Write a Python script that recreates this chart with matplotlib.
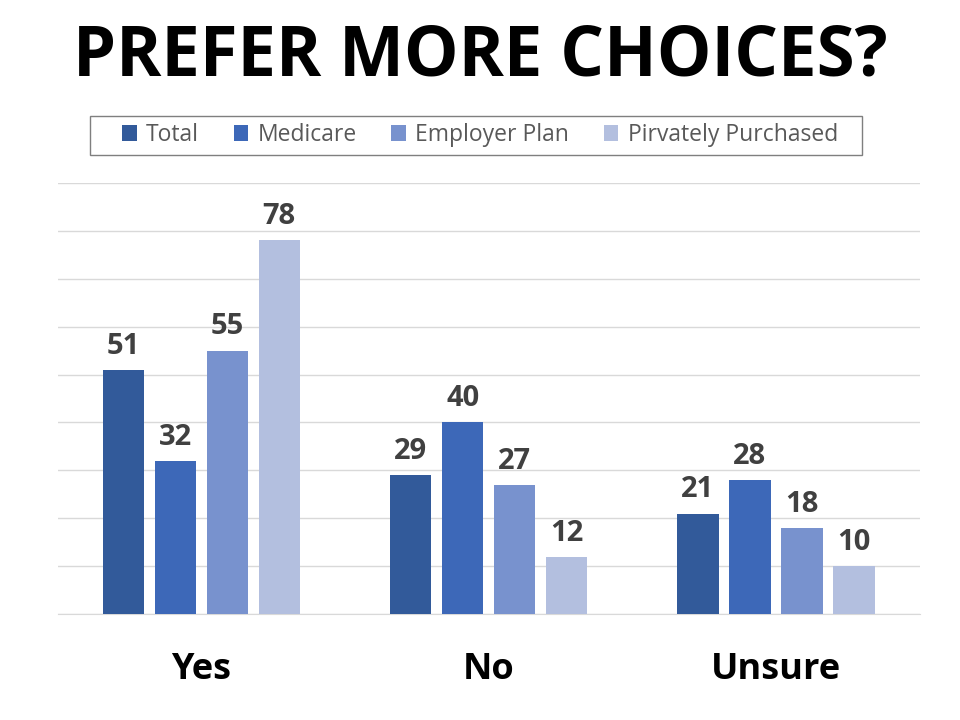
import matplotlib
matplotlib.use("Agg")
import matplotlib.pyplot as plt
from matplotlib.patches import Rectangle
import numpy as np

categories = ["Yes", "No", "Unsure"]
series_names = ["Total", "Medicare", "Employer Plan", "Pirvately Purchased"]
total = [51, 29, 21]
medicare = [32, 40, 28]
employer = [55, 27, 18]
private = [78, 12, 10]
colors = ["#325A9A", "#3D68B8", "#7892CE", "#B3BFDF"]

plt.rcParams['font.family'] = ['Open Sans', 'DejaVu Sans']

fig = plt.figure(figsize=(9.6, 7.2), dpi=100)
ax = fig.add_axes([0.060, 0.147, 0.898, 0.599])

series = [total, medicare, employer, private]
x = np.arange(len(categories))
step = 0.181
width = 0.143
for i, (vals, name, c) in enumerate(zip(series, series_names, colors)):
    pos = x + (i - 1.5) * step
    bars = ax.bar(pos, vals, width=width, color=c, label=name, zorder=3)
    for b, v in zip(bars, vals):
        ax.text(b.get_x() + b.get_width() / 2, v + 1.9, str(v), ha='center', va='bottom',
                fontsize=21, fontweight='bold', color='#404040')

ax.set_xlim(-0.5, 2.5)
ax.set_ylim(0, 90)
ax.set_yticks(np.arange(0, 91, 10))
ax.yaxis.grid(True, color='#D9D9D9', linewidth=1.0, zorder=0)
ax.tick_params(axis='y', left=False, labelleft=False)
ax.tick_params(axis='x', bottom=False, pad=24)
ax.set_xticks(x)
ax.set_xticklabels(categories, fontsize=26, fontweight='bold', color='black')
for s in ['top', 'right', 'left']:
    ax.spines[s].set_visible(False)
ax.spines['bottom'].set_color('#D9D9D9')

fig.text(0.5, 0.92, "PREFER MORE CHOICES?", ha='center', va='center',
         fontsize=49.5, fontweight='bold', color='black')

# legend box
fig.patches.append(Rectangle((90 / 960, 1 - 155 / 720), (862 - 90) / 960, 39 / 720,
                             transform=fig.transFigure, fill=False,
                             edgecolor='#7F7F7F', linewidth=1.0))
leg = fig.legend(loc='center', bbox_to_anchor=(0.500, 0.8125), ncol=4,
                 frameon=False, fontsize=16.5,
                 handlelength=0.65, handleheight=0.65, handletextpad=0.4, columnspacing=1.5,
                 borderpad=0.45, borderaxespad=0)
for t in leg.get_texts():
    t.set_color('#595959')

fig.savefig("out.png", dpi=100)
